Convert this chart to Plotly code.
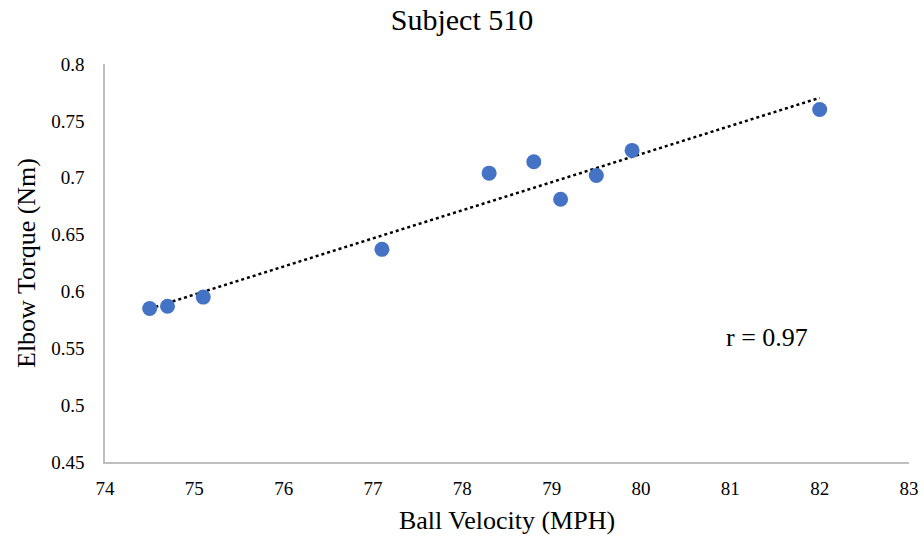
import numpy as np
import plotly.graph_objects as go

ball_velocity = [74.5, 74.7, 75.1, 77.1, 78.3, 78.8, 79.1, 79.5, 79.9, 82.0]
elbow_torque = [0.585, 0.587, 0.595, 0.637, 0.704, 0.714, 0.681, 0.702, 0.724, 0.760]
x_ticks = [74, 75, 76, 77, 78, 79, 80, 81, 82, 83]
y_ticks = [0.45, 0.5, 0.55, 0.6, 0.65, 0.7, 0.75, 0.8]
y_tick_labels = ["0.45", "0.5", "0.55", "0.6", "0.65", "0.7", "0.75", "0.8"]

slope, intercept = np.polyfit(ball_velocity, elbow_torque, 1)
trend_x = [min(ball_velocity), max(ball_velocity)]
trend_y = [slope * v + intercept for v in trend_x]

font = "Liberation Serif, Times New Roman, serif"

fig = go.Figure()
fig.add_trace(go.Scatter(x=trend_x, y=trend_y, mode="lines",
                         line=dict(color="black", width=2.5, dash="dot"),
                         showlegend=False, hoverinfo="skip"))
fig.add_trace(go.Scatter(x=ball_velocity, y=elbow_torque, mode="markers",
                         marker=dict(color="#4472C4", size=15),
                         showlegend=False))

fig.add_annotation(x=81.41, y=0.5596, text="r = 0.97", showarrow=False,
                   font=dict(family=font, size=26, color="black"))

fig.update_layout(
    width=924, height=539,
    paper_bgcolor="white", plot_bgcolor="white",
    margin=dict(l=105, r=15, t=64, b=77),
    title=dict(text="Subject 510", x=0.5, xanchor="center", y=0.963, yanchor="middle",
               font=dict(family=font, size=30, color="black")),
    font=dict(family=font, color="black"),
)
fig.update_xaxes(range=[74, 83], tickvals=x_ticks, showgrid=False, zeroline=False,
                 showline=True, linecolor="#bfbfbf", linewidth=1.5, ticks="",
                 ticklabelstandoff=8, automargin=False,
                 tickfont=dict(family=font, size=19, color="black"),
                 title=dict(text="Ball Velocity (MPH)", font=dict(family=font, size=26, color="black"),
                            standoff=13))
fig.update_yaxes(range=[0.45, 0.8], tickvals=y_ticks, ticktext=y_tick_labels, showgrid=False,
                 zeroline=False, showline=True, linecolor="#bfbfbf", linewidth=1.5, ticks="",
                 ticklabelstandoff=15, automargin=False,
                 tickfont=dict(family=font, size=19, color="black"),
                 title=dict(text="Elbow Torque (Nm)", font=dict(family=font, size=26, color="black"),
                            standoff=8))

fig.write_html("out.html",
               config={"displayModeBar": False},
               post_script="document.body.style.margin='0px';document.body.style.overflow='hidden';")
